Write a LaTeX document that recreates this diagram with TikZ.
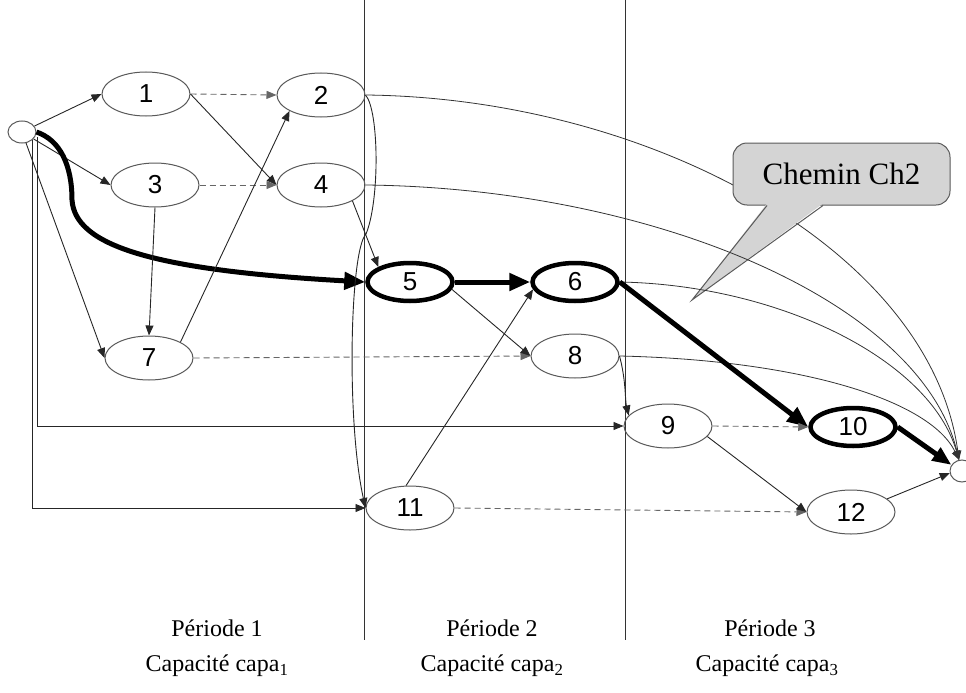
\documentclass[tikz,border=0pt]{standalone}
\usepackage{fontspec}
\setmainfont{Liberation Serif}
\setsansfont{Liberation Sans}
\usetikzlibrary{arrows.meta,shapes.geometric,calc}
\definecolor{callfill}{HTML}{D4D4D4}
\definecolor{calldraw}{HTML}{5A5A5A}
\begin{document}
\begin{tikzpicture}[x=1pt,y=-1pt,
  nd/.style={ellipse,draw=black!65,line width=1pt,minimum width=88pt,minimum height=44pt,inner sep=0pt,font=\sffamily\fontsize{26}{28}\selectfont},
  crit/.style={nd,draw=black,line width=4.5pt,minimum width=85pt,minimum height=38pt},
  endpt/.style={ellipse,draw=black!65,line width=1pt,inner sep=0pt},
  ln/.style={draw=black!85,line width=0.9pt,-{Triangle[length=10pt,width=8pt]}},
  dsh/.style={ln,draw=black!60,dash pattern=on 6pt off 4pt},
  thk/.style={draw=black,line width=5pt,-{Triangle[length=21pt,width=17pt]}},
  cv/.style={draw=black!80,line width=0.8pt,-{Triangle[length=9pt,width=7pt]}},
  lbl/.style={font=\fontsize{24}{28}\selectfont,inner sep=0pt},
  divider/.style={draw=black!80,line width=1pt}
]
\useasboundingbox (0,0) rectangle (966,693);

% dividers
\draw[divider] (364,0) -- (364,640);
\draw[divider] (625,0) -- (625,640);

% nodes
\node[endpt,minimum width=28pt,minimum height=22pt] (s) at (22,132) {};
\node[endpt,minimum width=24pt,minimum height=22pt] (t) at (962,471) {};
\node[nd] (n1) at (146,94) {1};
\node[nd] (n2) at (321,95) {2};
\node[nd] (n3) at (155,185) {3};
\node[nd] (n4) at (321,185) {4};
\node[crit] (n5) at (410,282) {5};
\node[crit] (n6) at (575,282) {6};
\node[nd] (n7) at (149,358) {7};
\node[nd] (n8) at (575,356) {8};
\node[nd] (n9) at (668,426) {9};
\node[crit] (n10) at (853,427) {10};
\node[nd] (n11) at (410,508) {11};
\node[nd] (n12) at (851,512) {12};

% edges from source
\draw[ln] (s) -- (n1.west);
\draw[ln] (s) -- (n3.west);
\draw[ln] (s) -- (n7.west);
\draw[ln] ([xshift=2pt]s.-20) |- (n9.west);
\draw[ln] (s.-35) |- (n11.west);
\draw[thk] (s.east) .. controls (60,140) and (72,165) .. (72,200)
  .. controls (75,245) and (150,270) .. (n5.west);

% period 1 edges
\draw[dsh] (n1.east) -- (n2.west);
\draw[ln] (n1.east) -- (n4.west);
\draw[dsh] (n3.east) -- (n4.west);
\draw[ln] (n3.south) -- (n7.north);
\draw[ln] (n7.north east) -- (n2.south west);
\draw[ln] (n4.south east) -- (n5.north west);
\draw[ln] (n2.east) .. controls (379,110) and (380,200) .. (366,234)
  .. controls (350,250) and (346,420) .. (n11.west);
\draw[dsh] (n7.east) -- (n8.west);

% period 2 edges
\draw[thk] (n5.east) -- (n6.west);
\draw[ln] (n5.-10) -- (n8.west);
\draw[ln] (n11.100) -- (n6.190);
\draw[dsh] (n11.east) -- (n12.west);
\draw[ln] (n8.east) .. controls (626,380) and (625,400) .. (n9.165);

% curves to sink
\draw[cv] (n2.east) .. controls (650,98) and (930,250) .. (t.105);

% callout
\node[draw=calldraw,fill=callfill,line width=1pt,rounded corners=14pt,minimum width=217pt,minimum height=62pt,font=\fontsize{31}{34}\selectfont] (cb) at (841.5,174) {Chemin Ch2};
\coordinate (tip) at (692,300);
\fill[callfill] ($(cb.south)+(-74.5,-2)$) -- (tip) -- ($(cb.south)+(-18.5,-2)$) -- cycle;
\draw[draw=calldraw,line width=1pt] ($(cb.south)+(-74.5,0)$) -- (tip) -- ($(cb.south)+(-18.5,0)$);

\draw[cv] (n4.east) .. controls (650,188) and (920,300) .. (t.105);
\draw[cv] (n6.east) .. controls (780,285) and (930,360) .. (t.105);
\draw[cv] (n8.east) .. controls (800,360) and (930,400) .. (t.105);

% period 3 edges
\draw[thk] (n6.east) -- (n10.west);
\draw[dsh] (n9.east) -- (n10.west);
\draw[ln] (n9.-15) -- (n12.west);
\draw[thk,-{Triangle[length=19pt,width=15pt]}] (n10.east) -- (t.150);
\draw[ln] (n12.20) -- (t.190);

% labels
\node[lbl] (p1) at (217,628) {Période 1};
\node[lbl] (c1) at (217,666) {Capacité capa\textsubscript{1}};
\node[lbl] (p2) at (492,628) {Période 2};
\node[lbl] (c2) at (492,666) {Capacité capa\textsubscript{2}};
\node[lbl] (p3) at (770,628) {Période 3};
\node[lbl] (c3) at (767,666) {Capacité capa\textsubscript{3}};
\end{tikzpicture}
\end{document}
